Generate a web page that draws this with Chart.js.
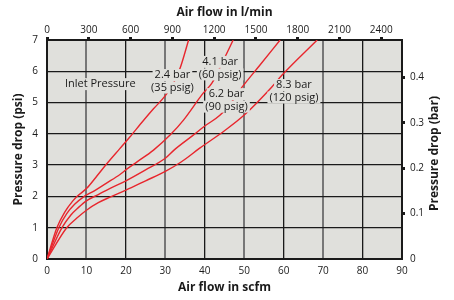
<!DOCTYPE html>
<html>
<head>
<meta charset="utf-8">
<script src="https://cdn.jsdelivr.net/npm/chart.js@4.4.0/dist/chart.umd.min.js"></script>
<style>
  html, body { margin: 0; padding: 0; background: #fff; }
  #wrap { width: 454px; height: 300px; }
</style>
</head>
<body>
<div id="wrap"><canvas id="dropChart" width="454" height="300"></canvas></div>
<script>
// Pressure drop vs air flow, one curve per inlet pressure
const flow24 = [0, 2.5, 4.5, 6.5, 7.6, 10, 12.7, 15, 18.4, 21, 24.4, 27, 30, 32, 33.8, 35.9];
const drop24 = [0, 1.0, 1.5, 1.85, 2.0, 2.25, 2.66, 3.02, 3.52, 3.9, 4.42, 4.8, 5.22, 5.6, 6.12, 7.0];

const flow41 = [0, 3.0, 5.0, 7.0, 9.2, 12, 15, 18.5, 20.3, 23, 27, 31.2, 34.6, 39.6, 41.8, 45.1, 47.2];
const drop41 = [0, 1.0, 1.45, 1.75, 1.98, 2.18, 2.42, 2.7, 2.88, 3.12, 3.48, 3.96, 4.44, 5.3, 5.62, 6.45, 7.0];

const flow62 = [0, 3.8, 6.0, 8.0, 10, 13, 16, 20, 25, 30, 32.2, 37, 40, 43.9, 47, 49.5, 54, 59.1];
const drop62 = [0, 1.0, 1.4, 1.65, 1.86, 2.06, 2.26, 2.5, 2.85, 3.22, 3.48, 3.95, 4.25, 4.6, 5.05, 5.5, 6.2, 7.0];

const flow83 = [0, 5.0, 7.5, 10, 13, 16, 20, 25, 30, 34, 38.8, 45, 50, 57, 59.6, 68.5];
const drop83 = [0, 1.0, 1.3, 1.56, 1.8, 1.98, 2.2, 2.5, 2.8, 3.1, 3.55, 4.1, 4.6, 5.5, 5.88, 7.0];

const curveNames = [["2.4 bar", "(35 psig)"], ["4.1 bar", "(60 psig)"], ["6.2 bar", "(90 psig)"], ["8.3 bar", "(120 psig)"]];

const scfmTicks = [0, 10, 20, 30, 40, 50, 60, 70, 80, 90];
const psiTicks = [0, 1, 2, 3, 4, 5, 6, 7];
const lpmTicks = [0, 300, 600, 900, 1200, 1500, 1800, 2100, 2400];
const barTicks = [0, 0.1, 0.2, 0.3, 0.4];

const LPM_PER_SCFM = 28.317;
const PSI_PER_BAR = 14.504;

const RED = "#e8262d";
const INK = "#1a1a1a";
const PLOT_BG = "#e0e0dc";
const FONT = "'Open Sans', 'DejaVu Sans', sans-serif";

function pairs(xs, ys) {
  return xs.map((x, i) => ({ x: x, y: ys[i] }));
}

function fixedTicks(list) {
  return scale => { scale.ticks = list.map(v => ({ value: v })); };
}

const plainNumber = v => String(v);

// label anchors in chart units (scfm, psi)
const labelSpots = [
  { lines: ["Inlet Pressure"], x: 13.5, y: 5.59 },
  { lines: curveNames[0], x: 31.8, y: 5.88 },
  { lines: curveNames[1], x: 43.9, y: 6.3 },
  { lines: curveNames[2], x: 45.5, y: 5.27 },
  { lines: curveNames[3], x: 62.6, y: 5.56 }
];

const plotBackground = {
  id: "plotBackground",
  beforeDraw(chart) {
    const a = chart.chartArea;
    const c = chart.ctx;
    c.save();
    c.fillStyle = PLOT_BG;
    c.fillRect(a.left, a.top, a.right - a.left, a.bottom - a.top);
    c.restore();
  }
};

const curveLabels = {
  id: "curveLabels",
  afterDatasetsDraw(chart) {
    const c = chart.ctx;
    const xs = chart.scales.x, ys = chart.scales.y;
    c.save();
    c.font = "11px " + FONT;
    c.textAlign = "center";
    c.textBaseline = "middle";
    labelSpots.forEach(spot => {
      const cx = xs.getPixelForValue(spot.x);
      const cy = ys.getPixelForValue(spot.y);
      spot.lines.forEach((t, i) => {
        const w = c.measureText(t).width;
        const y = cy + i * 12.5;
        c.fillStyle = PLOT_BG;
        c.fillRect(cx - w / 2 - 2, y - 6, w + 4, 12);
        c.fillStyle = INK;
        c.fillText(t, cx, y);
      });
    });
    c.restore();
  },
  afterDraw(chart) {
    // right axis title reads bottom-to-top, like the left one
    const c = chart.ctx;
    const a = chart.chartArea;
    c.save();
    c.translate(435, (a.top + a.bottom) / 2 + 4);
    c.rotate(-Math.PI / 2);
    c.font = "bold 12px " + FONT;
    c.fillStyle = INK;
    c.textAlign = "center";
    c.textBaseline = "middle";
    c.fillText("Pressure drop (bar)", 0, 0);
    c.restore();
  }
};

const tickFont = { family: FONT, size: 10 };
const titleFont = { family: FONT, size: 12, weight: "bold" };

new Chart(document.getElementById("dropChart").getContext("2d"), {
  type: "scatter",
  data: {
    datasets: [
      { data: pairs(flow24, drop24) },
      { data: pairs(flow41, drop41) },
      { data: pairs(flow62, drop62) },
      { data: pairs(flow83, drop83) }
    ]
  },
  options: {
    responsive: false,
    animation: false,
    layout: { padding: 0 },
    showLine: true,
    elements: {
      point: { radius: 0 },
      line: { borderColor: RED, borderWidth: 1.4, cubicInterpolationMode: "monotone", fill: false }
    },
    plugins: {
      legend: { display: false },
      tooltip: { enabled: false }
    },
    scales: {
      x: {
        type: "linear", position: "bottom", min: 0, max: 90,
        afterBuildTicks: fixedTicks(scfmTicks),
        afterFit: s => { s.height = 41; },
        border: { color: INK, width: 2 },
        grid: {
          drawTicks: false,
          color: ctx => (ctx.tick && ctx.tick.value % 20 === 10) ? "#777" : INK,
          lineWidth: ctx => (ctx.tick && ctx.tick.value % 20 === 10) ? 2 : 1.3
        },
        ticks: { color: INK, font: tickFont, padding: 6, maxRotation: 0, callback: plainNumber },
        title: { display: true, text: "Air flow in scfm", color: INK, font: titleFont, padding: { top: 0, bottom: 5 } }
      },
      x2: {
        type: "linear", position: "top", min: 0, max: 90 * LPM_PER_SCFM,
        afterBuildTicks: fixedTicks(lpmTicks),
        afterFit: s => { s.height = 40; },
        border: { color: INK, width: 2 },
        grid: { drawOnChartArea: false, drawTicks: true, tickLength: 3, tickWidth: 3, tickColor: INK },
        ticks: { color: INK, font: tickFont, padding: 1, maxRotation: 0, callback: plainNumber },
        title: { display: true, text: "Air flow in l/min", color: INK, font: titleFont, padding: { top: 5, bottom: 0 } }
      },
      y: {
        type: "linear", position: "left", min: 0, max: 7,
        afterBuildTicks: fixedTicks(psiTicks),
        afterFit: s => { s.width = 47; },
        border: { color: INK, width: 2 },
        grid: { drawTicks: false, color: INK, lineWidth: 1.3 },
        ticks: { color: INK, font: tickFont, padding: 9, callback: plainNumber },
        title: { display: true, text: "Pressure drop (psi)", color: INK, font: titleFont, padding: { top: 11, bottom: 0 } }
      },
      y2: {
        type: "linear", position: "right", min: 0, max: 7 / PSI_PER_BAR,
        afterBuildTicks: fixedTicks(barTicks),
        afterFit: s => { s.width = 52; },
        border: { color: INK, width: 2 },
        grid: {
          drawOnChartArea: false, drawTicks: true, tickLength: 3, tickWidth: 3,
          tickColor: ctx => (ctx.tick && ctx.tick.value === 0) ? "rgba(0,0,0,0)" : INK
        },
        ticks: { color: INK, font: tickFont, padding: 5, callback: plainNumber }
      }
    }
  },
  plugins: [plotBackground, curveLabels]
});
</script>
</body>
</html>
